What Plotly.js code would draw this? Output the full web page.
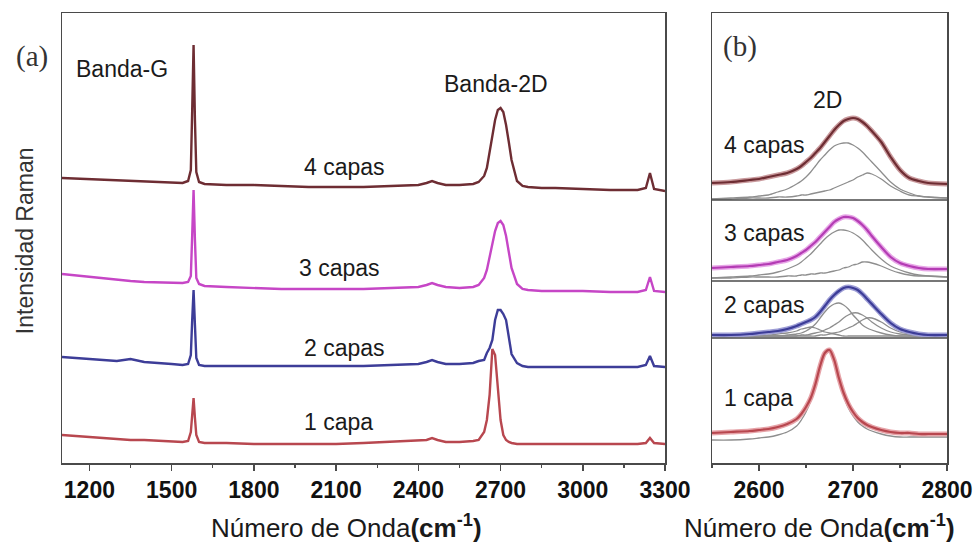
<!DOCTYPE html>
<html>
<head>
<meta charset="utf-8">
<script src="https://cdn.plot.ly/plotly-3.0.1.min.js"></script>
<style>html,body{margin:0;padding:0;background:#fff;}#chart{width:974px;height:552px;}</style>
</head>
<body>
<div id="chart"></div>
<script>
// ---------- Panel (a): full Raman spectra (wavenumber, cm^-1) ----------
const xa = [1100,1200,1300,1350,1400,1500,1540,1560,1570,1575,1580,1585,1590,1600,1620,1700,1800,1900,2000,2100,2200,2300,2400,2430,2450,2470,2500,2550,2600,2620,2640,2650,2660,2670,2680,2690,2700,2710,2720,2730,2740,2760,2780,2800,2850,2900,3000,3100,3200,3230,3245,3260,3300];
const capas4 = [285,284,283,282,282,281,280,282,293,353,418,343,291,281,279,278,278,277,276,276,276,277,278,280,282,280,278,278,279,281,287,295,311,328,343,353,355,351,338,321,303,282,277,276,275,275,274,273,273,275,290,274,272];
const capas3 = [189,186,183,182,181,180,180,181,187,228,273,223,185,179,177,176,175,174,174,174,174,175,176,178,180,178,176,175,176,178,185,193,205,219,232,240,242,238,227,211,195,179,174,173,172,172,172,171,171,173,186,172,171];
const capas2 = [106,104,102,104,101,99,98,99,108,143,173,138,105,98,97,97,97,97,97,97,97,98,99,101,103,101,99,99,100,102,103,110,115,123,143,153,153,149,143,126,109,100,97,96,96,96,96,96,96,98,107,97,96];
const capa1 = [28,26,24,23,23,22,21,22,31,48,65,45,28,21,20,20,19,19,19,19,20,21,22,23,25,23,21,21,22,23,31,43,68,114,108,78,43,28,23,21,20,19,19,19,19,19,19,19,19,20,25,20,19];
const ticksA = [1200,1500,1800,2100,2400,2700,3000,3300];

// ---------- Panel (b): 2D band detail with fitted components ----------
const xb = [2550,2570,2590,2600,2610,2620,2630,2640,2645,2650,2655,2660,2665,2670,2675,2680,2685,2690,2695,2700,2705,2710,2715,2720,2730,2740,2750,2760,2770,2780,2800];
const b4 = [280,281,283,284,286,288,290,294,297,301,305,310,315,321,327,333,338,342,344,345,344,341,337,332,321,306,293,285,282,280,279];
const b4fit1 = [264,265,266,267,268,271,274,279,282,286,291,297,303,308,313,317,319,320,320,318,315,311,306,301,291,281,274,270,267,266,265];
const b4fit2 = [264,264,265,265,265,266,266,267,268,268,269,270,271,272,273,275,277,279,281,283,286,288,290,289,284,277,272,268,267,266,265];
const b3 = [195,196,197,198,199,201,203,207,210,213,217,221,226,231,236,241,244,246,246,245,242,238,233,227,216,206,200,197,195,194,194];
const b3fit1 = [185,186,187,188,189,191,194,198,201,205,209,214,219,224,228,231,233,233,232,230,227,223,218,213,204,197,193,190,188,187,186];
const b3fit2 = [185,185,186,186,186,186,187,187,188,188,189,189,190,190,191,192,193,195,196,198,199,201,201,200,197,193,190,188,187,187,186];
const b2 = [128,128,129,130,131,132,134,137,139,141,143,146,151,157,163,168,172,175,176,175,173,169,164,159,149,140,134,131,129,128,128];
const b2fitA = [127,127,127,128,128,129,130,132,134,135,136,135,133,131,130,129,128,127,127,127,127,127,127,127,127,127,127,127,127,127,127];
const b2fitB = [127,127,127,127,127,127,128,129,130,132,135,139,145,151,156,159,160,158,154,148,143,138,135,133,130,128,127,127,127,127,127];
const b2fitC = [127,127,127,127,127,127,127,127,128,128,129,130,131,133,135,138,141,145,148,150,150,148,145,141,135,131,129,128,127,127,127];
const b2fitD = [127,127,127,127,127,127,127,127,127,127,127,127,128,128,129,130,131,133,135,137,140,143,145,145,141,135,131,129,128,127,127];
const b1 = [30,31,32,33,34,36,39,44,49,56,65,79,97,110,113,103,85,70,59,51,45,41,38,36,33,31,30,30,29,29,29];
const b1fit = [23,23,24,25,26,28,31,37,43,51,62,77,95,108,111,101,83,67,55,47,41,37,34,32,29,27,26,26,26,26,26];
const ticksB = [2600,2700,2800];

const seriesA = [
  {name:'4 capas', y:capas4, color:'#6e2d33'},
  {name:'3 capas', y:capas3, color:'#c646c6'},
  {name:'2 capas', y:capas2, color:'#3d3d98'},
  {name:'1 capa',  y:capa1,  color:'#b8474f'}
];
const seriesB = [
  {name:'4 capas', y:b4, color:'#6e2d33', halo:'#c99a9d', fits:[b4fit1,b4fit2]},
  {name:'3 capas', y:b3, color:'#b43cb4', halo:'#e7a6e7', fits:[b3fit1,b3fit2]},
  {name:'2 capas', y:b2, color:'#3d3d98', halo:'#9e9ed6', fits:[b2fitA,b2fitB,b2fitC,b2fitD]},
  {name:'1 capa',  y:b1, color:'#b8474f', halo:'#e6a3a8', fits:[b1fit]}
];

const traces = [];
seriesA.forEach(s => traces.push({x:xa, y:s.y, xaxis:'x', yaxis:'y', mode:'lines', name:s.name,
  line:{color:s.color, width:2.4}, hoverinfo:'skip'}));
seriesB.forEach(s => {
  s.fits.forEach(f => traces.push({x:xb, y:f, xaxis:'x2', yaxis:'y2', mode:'lines',
    line:{color:'#8e8e8e', width:1.3, shape:'spline', smoothing:0.8}, hoverinfo:'skip'}));
  traces.push({x:xb, y:s.y, xaxis:'x2', yaxis:'y2', mode:'lines',
    line:{color:s.halo, width:5, shape:'spline', smoothing:0.8}, hoverinfo:'skip'});
  traces.push({x:xb, y:s.y, xaxis:'x2', yaxis:'y2', mode:'lines', name:s.name,
    line:{color:s.color, width:2.2, shape:'spline', smoothing:0.8}, hoverinfo:'skip'});
});

const frame = '#4a4a4a';
const tickFont = {family:'Liberation Sans, Arial, sans-serif', size:23, color:'#111'};
const axBase = {showline:true, mirror:true, linecolor:frame, linewidth:1.5, showgrid:false, zeroline:false};
const lab = {family:'Liberation Sans, Arial, sans-serif', size:23, color:'#1a1a1a'};
const titleText = 'Número de Onda<b>(cm<sup>-1</sup>)</b>';
const titleFont = {family:'Liberation Sans, Arial, sans-serif', size:26, color:'#1a1a1a'};

const annotations = [
  {xref:'paper', yref:'paper', x:-0.0418, y:0.493, xanchor:'center', yanchor:'middle', text:'Intensidad Raman', textangle:-90, showarrow:false,
   font:{family:'Liberation Sans, Arial, sans-serif', size:23, color:'#333'}},
  {xref:'paper', yref:'paper', x:0.322, y:-0.142, xanchor:'center', yanchor:'middle', text:titleText, showarrow:false, font:titleFont},
  {xref:'paper', yref:'paper', x:0.856, y:-0.142, xanchor:'center', yanchor:'middle', text:titleText, showarrow:false, font:titleFont},
  {xref:'paper', yref:'paper', x:-0.0339, y:0.903, text:'(a)', showarrow:false, xanchor:'center', yanchor:'middle',
   font:{family:'Liberation Serif, Times New Roman, serif', size:29, color:'#333'}},
  {xref:'x', yref:'y', x:1144, y:394, xanchor:'left', yanchor:'middle', text:'Banda-G', showarrow:false, font:lab},
  {xref:'x', yref:'y', x:2488, y:379, xanchor:'left', yanchor:'middle', text:'Banda-2D', showarrow:false, font:lab},
  {xref:'x', yref:'y', x:1976, y:296, xanchor:'left', yanchor:'middle', text:'4 capas', showarrow:false, font:lab},
  {xref:'x', yref:'y', x:1958, y:195, xanchor:'left', yanchor:'middle', text:'3 capas', showarrow:false, font:lab},
  {xref:'x', yref:'y', x:1976, y:115, xanchor:'left', yanchor:'middle', text:'2 capas', showarrow:false, font:lab},
  {xref:'x', yref:'y', x:1976, y:41, xanchor:'left', yanchor:'middle', text:'1 capa', showarrow:false, font:lab},
  {xref:'x2', yref:'y2', x:2560, y:417, xanchor:'left', yanchor:'middle', text:'(b)', showarrow:false,
   font:{family:'Liberation Serif, Times New Roman, serif', size:29, color:'#333'}},
  {xref:'x2', yref:'y2', x:2673, y:363, xanchor:'center', yanchor:'middle', text:'2D', showarrow:false, font:lab},
  {xref:'x2', yref:'y2', x:2561, y:318, xanchor:'left', yanchor:'middle', text:'4 capas', showarrow:false, font:lab},
  {xref:'x2', yref:'y2', x:2561, y:230, xanchor:'left', yanchor:'middle', text:'3 capas', showarrow:false, font:lab},
  {xref:'x2', yref:'y2', x:2561, y:158, xanchor:'left', yanchor:'middle', text:'2 capas', showarrow:false, font:lab},
  {xref:'x2', yref:'y2', x:2561, y:65, xanchor:'left', yanchor:'middle', text:'1 capa', showarrow:false, font:lab}
];

const shapes = [263, 182, 125].map(v => ({type:'line', xref:'x2 domain', yref:'y2', x0:0, x1:1, y0:v, y1:v,
  line:{color:frame, width:1.3}}));

const layout = {
  width:974, height:552,
  margin:{l:62, r:27, t:13, b:89},
  paper_bgcolor:'#fff', plot_bgcolor:'#fff',
  showlegend:false,
  xaxis:Object.assign({}, axBase, {domain:[0,0.6814], range:[1100,3300], tickmode:'array',
    tickvals:ticksA, ticktext:ticksA.map(t => '<b>' + t + '</b>'),
    ticks:'outside', ticklen:6, tickwidth:1.5, tickcolor:frame, tickfont:tickFont, anchor:'y',
    minor:{ticks:'outside', ticklen:3, tickwidth:1.2, tickcolor:frame, dtick:150, tick0:1200}}),
  yaxis:Object.assign({}, axBase, {domain:[0,1], range:[0,450], showticklabels:false, ticks:'', anchor:'x'}),
  xaxis2:Object.assign({}, axBase, {domain:[0.7345,1], range:[2550,2800], tickmode:'array',
    tickvals:ticksB, ticktext:ticksB.map(t => '<b>' + t + '</b>'),
    ticks:'outside', ticklen:6, tickwidth:1.5, tickcolor:frame, tickfont:tickFont, anchor:'y2',
    minor:{ticks:'outside', ticklen:3, tickwidth:1.2, tickcolor:frame, dtick:50, tick0:2600}}),
  yaxis2:Object.assign({}, axBase, {domain:[0,1], range:[0,450], showticklabels:false, ticks:'', anchor:'x2'}),
  annotations:annotations,
  shapes:shapes
};

Plotly.newPlot('chart', traces, layout, {displayModeBar:false, staticPlot:true});
</script>
</body>
</html>
